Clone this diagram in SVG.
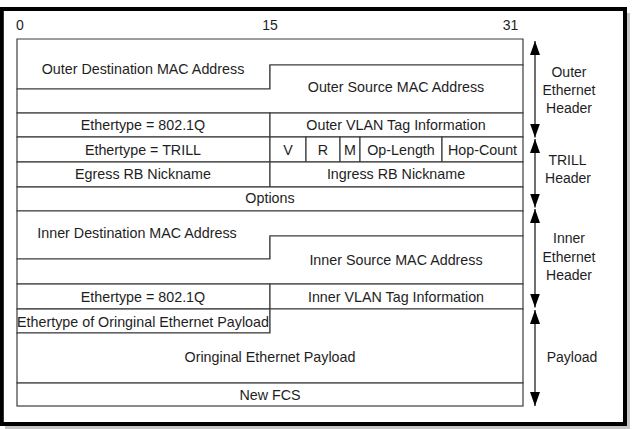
<svg xmlns="http://www.w3.org/2000/svg" width="633" height="429" viewBox="0 0 633 429">
<style>
.f{fill:#fff;stroke:#3c3c3c;stroke-width:1.2}
text{font-family:"Liberation Sans",Arial,sans-serif;font-size:14.3px;fill:#1e1e1e;text-anchor:middle}
.lb text{font-size:14px}
.ar{stroke:#333;stroke-width:1.4;fill:none}
</style>
<defs>
<marker id="ah" markerUnits="userSpaceOnUse" markerWidth="14" markerHeight="10" refX="14" refY="5" orient="auto-start-reverse">
<path d="M0,0 L14,5 L0,10 Z" fill="#000"/>
</marker>
</defs>
<rect width="633" height="429" fill="#fff"/>
<path d="M628.5,13 V427.5 H5" fill="none" stroke="#c4c4c4" stroke-width="3"/>
<rect id="frame" x="1.8" y="9" width="623.2" height="415" fill="none" stroke="#000" stroke-width="4"/>

<g id="ruler" class="lb">
<text x="20" y="29.5">0</text>
<text x="270" y="29.5">15</text>
<text x="510.5" y="29.5">31</text>
</g>

<g id="outer-dst"><path class="f" d="M17,39 H523 V65 H270 V89 H17 Z"/><text x="143" y="74">Outer Destination MAC Address</text></g>
<g id="outer-src"><path class="f" d="M270,65 H523 V113 H17 V89 H270 Z"/><text x="396" y="92">Outer Source MAC Address</text></g>
<g id="outer-ethertype"><rect class="f" x="17" y="113" width="253" height="24"/><text x="143" y="130">Ethertype = 802.1Q</text></g>
<g id="outer-vlan"><rect class="f" x="270" y="113" width="253" height="24"/><text x="396" y="130">Outer VLAN Tag Information</text></g>
<g id="trill-ethertype"><rect class="f" x="17" y="137" width="253" height="25"/><text x="143" y="155">Ethertype = TRILL</text></g>
<g id="v"><rect class="f" x="270" y="137" width="36" height="25"/><text x="288" y="155">V</text></g>
<g id="r"><rect class="f" x="306" y="137" width="34" height="25"/><text x="323" y="155">R</text></g>
<g id="m"><rect class="f" x="340" y="137" width="20" height="25"/><text x="350" y="155">M</text></g>
<g id="op-length"><rect class="f" x="360" y="137" width="82" height="25"/><text x="401" y="155">Op-Length</text></g>
<g id="hop-count"><rect class="f" x="442" y="137" width="81" height="25"/><text x="482.5" y="155">Hop-Count</text></g>
<g id="egress"><rect class="f" x="17" y="162" width="253" height="25"/><text x="143" y="179">Egress RB Nickname</text></g>
<g id="ingress"><rect class="f" x="270" y="162" width="253" height="25"/><text x="396" y="179">Ingress RB Nickname</text></g>
<g id="options"><rect class="f" x="17" y="187" width="506" height="24"/><text x="270" y="203">Options</text></g>
<g id="inner-dst"><path class="f" d="M17,211 H523 V236 H270 V259 H17 Z"/><text x="137" y="238">Inner Destination MAC Address</text></g>
<g id="inner-src"><path class="f" d="M270,236 H523 V284 H17 V259 H270 Z"/><text x="396" y="265">Inner Source MAC Address</text></g>
<g id="inner-ethertype"><rect class="f" x="17" y="284" width="253" height="25"/><text x="143" y="302">Ethertype = 802.1Q</text></g>
<g id="inner-vlan"><rect class="f" x="270" y="284" width="253" height="25"/><text x="396" y="302">Inner VLAN Tag Information</text></g>
<g id="payload-ethertype"><rect class="f" x="17" y="309" width="253" height="24"/><text x="143" y="327">Ethertype of Oringinal Ethernet Payload</text></g>
<g id="payload"><path class="f" d="M270,309 H523 V383 H17 V333 H270 Z"/><text x="270" y="362">Oringinal Ethernet Payload</text></g>
<g id="fcs"><rect class="f" x="17" y="383" width="506" height="23"/><text x="270" y="400">New FCS</text></g>

<g id="connectors">
<line class="ar" x1="535" y1="41" x2="535" y2="137.5" marker-start="url(#ah)" marker-end="url(#ah)"/>
<line class="ar" x1="535" y1="139" x2="535" y2="207.5" marker-start="url(#ah)" marker-end="url(#ah)"/>
<line class="ar" x1="535" y1="209" x2="535" y2="307.5" marker-start="url(#ah)" marker-end="url(#ah)"/>
<line class="ar" x1="535" y1="310" x2="535" y2="406" marker-start="url(#ah)" marker-end="url(#ah)"/>
</g>

<g id="label-outer" class="lb"><text x="569" y="77">Outer</text><text x="569" y="95">Ethernet</text><text x="569" y="113">Header</text></g>
<g id="label-trill" class="lb"><text x="567.5" y="165">TRILL</text><text x="568" y="183">Header</text></g>
<g id="label-inner" class="lb"><text x="569" y="243">Inner</text><text x="569" y="262">Ethernet</text><text x="569" y="280">Header</text></g>
<g id="label-payload" class="lb"><text x="572" y="362">Payload</text></g>
</svg>
